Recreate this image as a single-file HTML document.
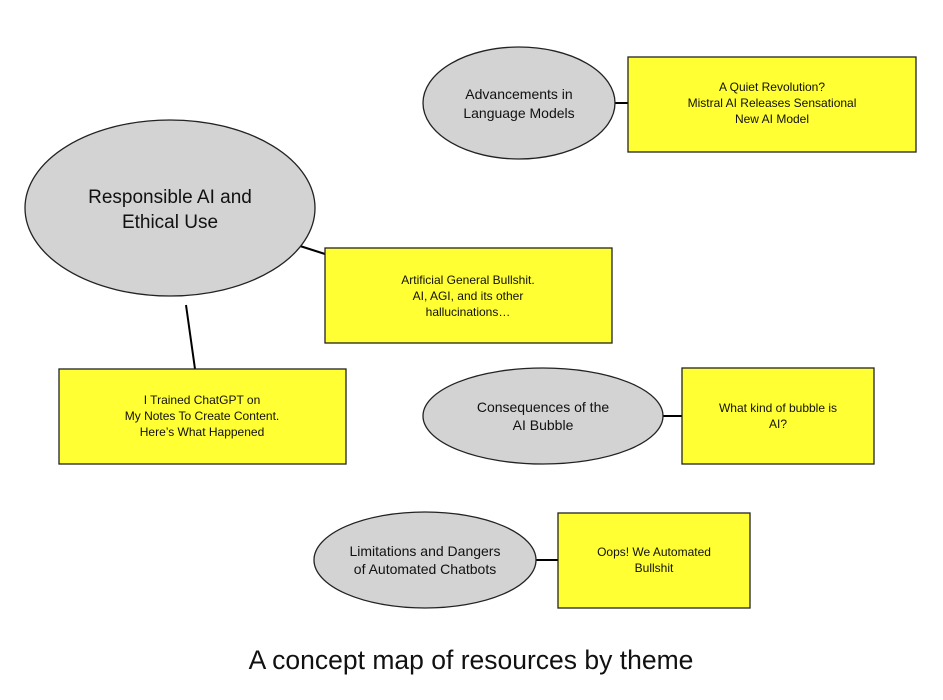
<!DOCTYPE html>
<html><head><meta charset="utf-8"><style>
html,body{margin:0;padding:0;background:#fff;}
svg{display:block;}
text{font-family:"Liberation Sans",Arial,sans-serif;fill:#111;}
</style></head><body>
<svg width="943" height="700" viewBox="0 0 943 700" xmlns="http://www.w3.org/2000/svg">
<g stroke="#000" stroke-width="2">
<line x1="615" y1="103" x2="628" y2="103"/>
<line x1="300" y1="246" x2="325" y2="254"/>
<line x1="186" y1="305" x2="195" y2="369"/>
<line x1="663" y1="416" x2="682" y2="416"/>
<line x1="536" y1="560" x2="558" y2="560"/>
</g>
<g stroke="#222" stroke-width="1.3" fill="#d3d3d3">
<ellipse cx="519" cy="103" rx="96" ry="56"/>
<ellipse cx="170" cy="208" rx="145" ry="88"/>
<ellipse cx="543" cy="416" rx="120" ry="48"/>
<ellipse cx="425" cy="560" rx="111" ry="48"/>
</g>
<g stroke="#222" stroke-width="1.3" fill="#ffff33">
<rect x="628" y="57" width="288" height="95"/>
<rect x="325" y="248" width="287" height="95"/>
<rect x="59" y="369" width="287" height="95"/>
<rect x="682" y="368" width="192" height="96"/>
<rect x="558" y="513" width="192" height="95"/>
</g>
<g text-anchor="middle" font-size="14">
<text x="519" y="99">Advancements in</text>
<text x="519" y="118">Language Models</text>
<text x="543" y="412">Consequences of the</text>
<text x="543" y="430">AI Bubble</text>
<text x="425" y="556">Limitations and Dangers</text>
<text x="425" y="574">of Automated Chatbots</text>
</g>
<g text-anchor="middle" font-size="19">
<text x="170" y="203">Responsible AI and</text>
<text x="170" y="228">Ethical Use</text>
</g>
<g text-anchor="middle" font-size="12">
<text x="772" y="91">A Quiet Revolution?</text>
<text x="772" y="107">Mistral AI Releases Sensational</text>
<text x="772" y="123">New AI Model</text>
<text x="468" y="284">Artificial General Bullshit.</text>
<text x="468" y="300">AI, AGI, and its other</text>
<text x="468" y="316">hallucinations…</text>
<text x="202" y="404">I Trained ChatGPT on</text>
<text x="202" y="420">My Notes To Create Content.</text>
<text x="202" y="436">Here’s What Happened</text>
<text x="778" y="412">What kind of bubble is</text>
<text x="778" y="428">AI?</text>
<text x="654" y="556">Oops! We Automated</text>
<text x="654" y="572">Bullshit</text>
</g>
<text x="471" y="669" text-anchor="middle" font-size="26.5">A concept map of resources by theme</text>
</svg>
</body></html>
